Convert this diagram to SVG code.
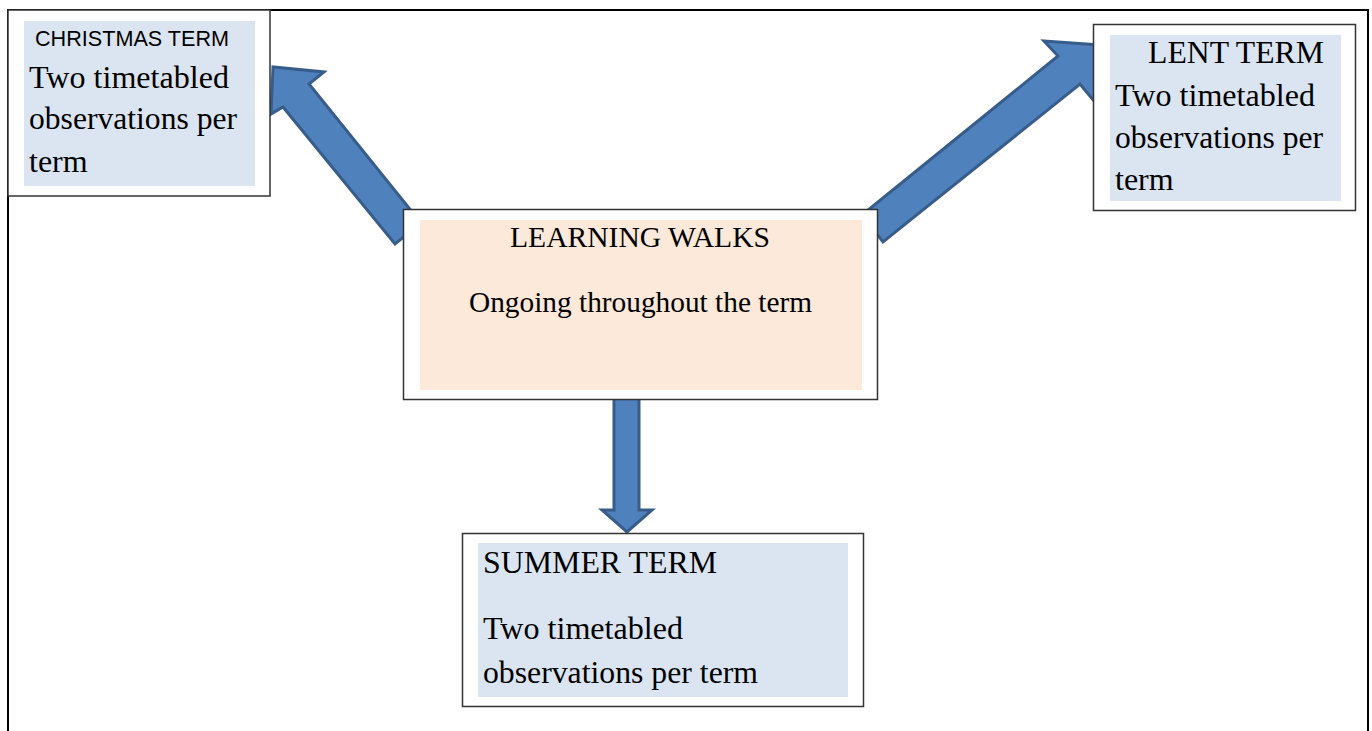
<svg xmlns="http://www.w3.org/2000/svg" width="1372" height="731" viewBox="0 0 1372 731">
<style>
.frame{fill:none;stroke:#000;stroke-width:2}
.box{fill:#fff;stroke:#333;stroke-width:1.5}
.blue{fill:#DBE5F1}
.peach{fill:#FDE9D9}
.arrow{fill:#4F81BD;stroke:#385D8A;stroke-width:3;stroke-linejoin:miter}
.t{font-family:"Liberation Serif","Times New Roman",serif;fill:#000;font-size:32px}
.s{font-family:"Liberation Sans",Arial,sans-serif;fill:#000}
</style>
<rect width="1372" height="731" fill="#fff"/>
<rect class="frame" x="8" y="10" width="1360" height="740"/>
<g id="connectors">
<polygon class="arrow" points="421,223 309,84 324,72 273,67 271,114 283,107 395,244"/>
<polygon class="arrow" points="862,215 1058,56 1044,41 1099,45 1094,101 1080,84 883,242"/>
<polygon class="arrow" points="614,396 639,396 639,510 652,510 627,532 602,510 614,510"/>
</g>
<g id="christmas">
<rect class="box" x="8" y="10" width="262" height="186"/>
<rect class="blue" x="24" y="21" width="231" height="165"/>
<text class="s" x="35" y="45.5" font-size="21.8" textLength="194" lengthAdjust="spacingAndGlyphs">CHRISTMAS TERM</text>
<text class="t" x="29" y="88" textLength="200" lengthAdjust="spacingAndGlyphs">Two timetabled</text>
<text class="t" x="29" y="129" textLength="208" lengthAdjust="spacingAndGlyphs">observations per</text>
<text class="t" x="29" y="172">term</text>
</g>
<g id="lent">
<rect class="box" x="1093.5" y="24.5" width="262" height="186"/>
<rect class="blue" x="1110" y="35" width="231" height="166"/>
<text class="t" x="1148" y="63" textLength="176" lengthAdjust="spacingAndGlyphs">LENT TERM</text>
<text class="t" x="1115" y="106" textLength="200" lengthAdjust="spacingAndGlyphs">Two timetabled</text>
<text class="t" x="1115" y="148" textLength="208" lengthAdjust="spacingAndGlyphs">observations per</text>
<text class="t" x="1115" y="190">term</text>
</g>
<g id="learning">
<rect class="box" x="403.5" y="209.5" width="474" height="190"/>
<rect class="peach" x="420" y="220" width="442" height="170"/>
<text class="t" x="510" y="247" font-size="29.7" textLength="260" lengthAdjust="spacingAndGlyphs" style="font-size:29.7px">LEARNING WALKS</text>
<text class="t" x="469" y="312" textLength="343" lengthAdjust="spacingAndGlyphs" style="font-size:29.4px">Ongoing throughout the term</text>
</g>
<g id="summer">
<rect class="box" x="462.5" y="533.5" width="401" height="173"/>
<rect class="blue" x="478" y="543" width="370" height="154"/>
<text class="t" x="483" y="573" textLength="234" lengthAdjust="spacingAndGlyphs">SUMMER TERM</text>
<text class="t" x="483" y="639" textLength="200" lengthAdjust="spacingAndGlyphs">Two timetabled</text>
<text class="t" x="483" y="683" textLength="275" lengthAdjust="spacingAndGlyphs">observations per term</text>
</g>
</svg>
